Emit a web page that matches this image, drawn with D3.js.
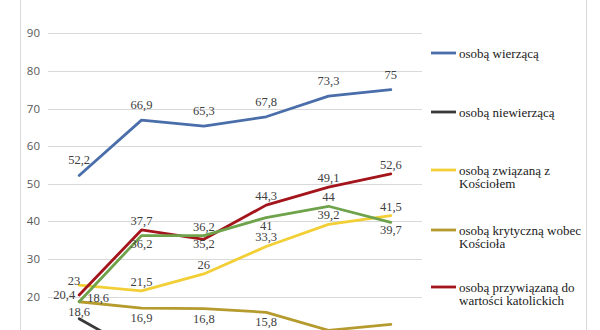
<!DOCTYPE html>
<html>
<head>
<meta charset="utf-8">
<script src="https://cdn.jsdelivr.net/npm/d3@7"></script>
<style>
  html, body { margin: 0; padding: 0; background: #fff; overflow: hidden; }
  svg { display: block; }
</style>
</head>
<body>
<svg id="chart" width="600" height="330"></svg>
<script>
// ---- data ----
const categories = ["1", "2", "3", "4", "5", "6"];
const yTicks = [0, 10, 20, 30, 40, 50, 60, 70, 80, 90, 100];

const seriesNames = [
  ["osobą wierzącą"],
  ["osobą niewierzącą"],
  ["osobą związaną z", "Kościołem"],
  ["osobą krytyczną wobec", "Kościoła"],
  ["osobą przywiązaną do", "wartości katolickich"],
  [""]
];
const wierzaca     = [52.2, 66.9, 65.3, 67.8, 73.3, 75];
const niewierzaca  = [14.1, 4.7, 4.2, 3.8, 3.4, 3.6];
const zwiazana     = [23, 21.5, 26, 33.3, 39.2, 41.5];
const krytyczna    = [18.6, 16.9, 16.8, 15.8, 11.0, 12.6];
const przywiazana  = [20.4, 37.7, 35.2, 44.3, 49.1, 52.6];
const szosta       = [18.6, 36.2, 36.2, 41, 44, 39.7];

// ---- styling / placement (not data) ----
const colors = ["#4a6eaa", "#3a3a3a", "#f2cf36", "#b59b2e", "#a3141b", "#6ea34b"];
const placements = [
  ["above", "above", "above", "above", "above", "above"],
  ["below", "below", "below", "below", "below", "below"],
  ["aboveleft", "above", "above", "above", "above", "above"],
  ["below", "below", "below", "below", "below", "below"],
  ["left", "above", "below", "above", "above", "above"],
  ["right", "below", "above", "below", "above", "below"]
];
const aboveOffset = [-15, -13, -9, -12, -9, -9];
const belowOffset = [16, 16, 10, 10, 5, 8];

const seriesValues = [wierzaca, niewierzaca, zwiazana, krytyczna, przywiazana, szosta];
const series = seriesValues.map((v, i) => ({
  name: seriesNames[i], values: v, color: colors[i], place: placements[i],
  above: aboveOffset[i], below: belowOffset[i]
}));

const svg = d3.select("#chart");

const x = d3.scalePoint().domain(categories).range([48, 422]).padding(0.5);
const y = d3.scaleLinear().domain([0, 100]).range([371.7, -4.3]);

// frame
svg.append("line").attr("x1", 20.5).attr("x2", 20.5).attr("y1", 0).attr("y2", 330)
  .attr("stroke", "#d9d9d9").attr("stroke-width", 1);
svg.append("line").attr("x1", 586.5).attr("x2", 586.5).attr("y1", 0).attr("y2", 330)
  .attr("stroke", "#d9d9d9").attr("stroke-width", 1);

// grid + axis
const yAxis = d3.axisLeft(y).tickValues(yTicks).tickSize(-(422 - 48)).tickPadding(8).tickFormat(d3.format("d"));
const gAxis = svg.append("g").attr("transform", "translate(48,0)").call(yAxis);
gAxis.select(".domain").remove();
gAxis.selectAll(".tick line").attr("stroke", "#d9d9d9").attr("stroke-width", 1).attr("shape-rendering", "crispEdges");
gAxis.selectAll(".tick text").attr("fill", "#595959").style("font-family", "'Open Sans', 'DejaVu Sans', sans-serif").style("font-size", "11.5px");

// lines
const line = d3.line().x((d, i) => x(categories[i])).y(d => y(d));
svg.append("g").selectAll("path").data(series).join("path")
  .attr("d", d => line(d.values))
  .attr("fill", "none")
  .attr("stroke", d => d.color)
  .attr("stroke-width", 2.8)
  .attr("stroke-linejoin", "round")
  .attr("stroke-linecap", "round");

// data labels
const fmt = v => String(v).replace(".", ",");
const lblG = svg.append("g").style("font-family", "'Liberation Serif', 'Times New Roman', serif").style("font-size", "12.5px").attr("fill", "#404040");
series.forEach(s => {
  s.values.forEach((v, i) => {
    const px = x(categories[i]), py = y(v);
    let dx = 0, dy = 0, anchor = "middle";
    const p = s.place[i];
    if (p === "above") { dy = s.above; }
    else if (p === "below") { dy = s.below; }
    else if (p === "left") { dx = -4; anchor = "end"; dy = 0; }
    else if (p === "right") { dx = 8; anchor = "start"; dy = -4; }
    else if (p === "aboveleft") { dx = 1; anchor = "end"; dy = -4; }
    lblG.append("text")
      .attr("x", px + dx).attr("y", py + dy)
      .attr("text-anchor", anchor)
      .attr("dominant-baseline", "central")
      .text(fmt(v));
  });
});

// legend
const legY = [53, 112, 170, 230, 287, 346];
const leg = svg.append("g").style("font-family", "'Liberation Serif', 'Times New Roman', serif").style("font-size", "13px");
series.forEach((s, i) => {
  const g = leg.append("g").attr("transform", `translate(0,${legY[i]})`);
  g.append("line").attr("x1", 431).attr("x2", 456).attr("y1", 0).attr("y2", 0)
    .attr("stroke", s.color).attr("stroke-width", 2.8);
  s.name.forEach((t, j) => {
    g.append("text").attr("x", 459).attr("y", j * 13).attr("dominant-baseline", "central")
      .attr("fill", "#1a1a1a").text(t);
  });
});
</script>
</body>
</html>
